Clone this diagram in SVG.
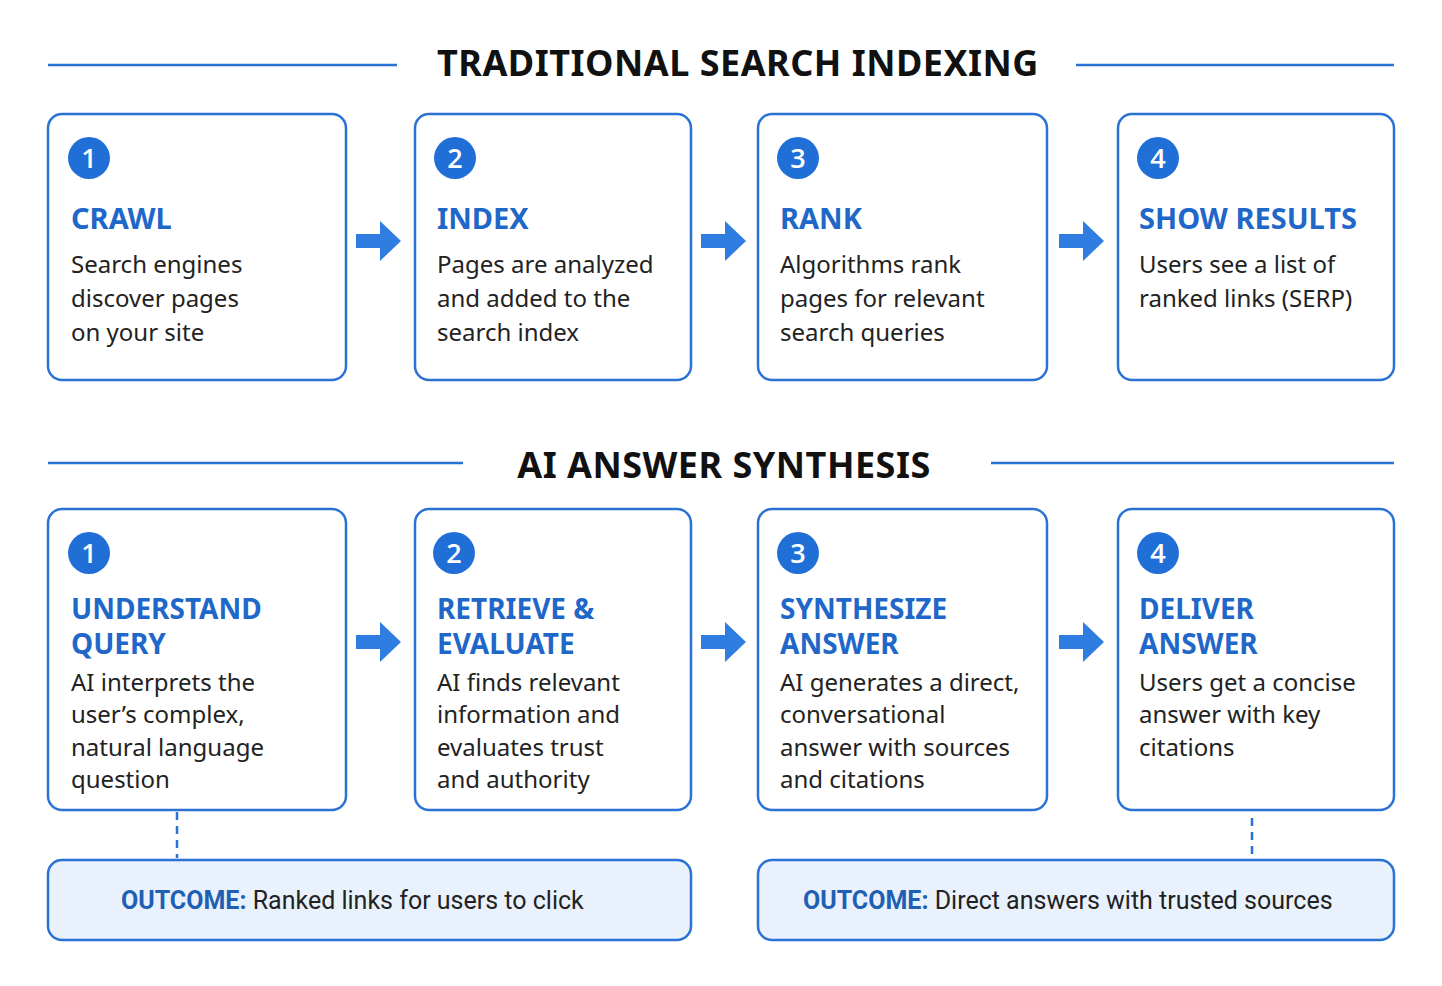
<svg xmlns="http://www.w3.org/2000/svg" width="1442" height="986" viewBox="0 0 1442 986">
<style>
.box{fill:#fff;stroke:#2a72d4;stroke-width:2.5}
.out{fill:#e9f2fc;stroke:#2a72d4;stroke-width:2.5}
.hl{stroke:#2a72d4;stroke-width:2.5}
.c{fill:#1f6fd6}
.n{font-family:"Open Sans","Noto Sans",sans-serif;font-size:27px;fill:#fff;text-anchor:middle;font-weight:600}
.t{font-family:"Noto Sans","Open Sans",sans-serif;font-size:29px;font-weight:700;fill:#1f67c8}
.t2{font-family:"Noto Sans","Open Sans",sans-serif;font-size:28px;font-weight:700;fill:#1f67c8}
.b{font-family:"Noto Sans","Open Sans",sans-serif;font-size:24px;fill:#222}
.h{font-family:"Noto Sans","Open Sans",sans-serif;font-size:36px;font-weight:700;fill:#111;text-anchor:middle;letter-spacing:0.5px}
.o{font-family:"Roboto","Noto Sans",sans-serif;font-size:25px;fill:#222}
.ob{font-weight:700;fill:#1f5fb4}
.ar{fill:#2f7de0}
.d{stroke:#2a72d4;stroke-width:2.5;stroke-dasharray:8,6}
</style>
<rect width="1442" height="986" fill="#fff"/>
<line class="hl" x1="48" y1="65" x2="397" y2="65"/><line class="hl" x1="1076" y1="65" x2="1394" y2="65"/>
<text class="h" x="738" y="76">TRADITIONAL SEARCH INDEXING</text>
<line class="hl" x1="48" y1="463" x2="463" y2="463"/><line class="hl" x1="991" y1="463" x2="1394" y2="463"/>
<text class="h" x="724" y="478">AI ANSWER SYNTHESIS</text>
<g id="crawl"><rect class="box" x="48" y="114" width="298" height="266" rx="14"/><circle class="c" cx="89" cy="158" r="21"/><text class="n" x="89" y="168">1</text><text class="t" x="71" y="229">CRAWL</text><text class="b" x="71" y="273">Search engines</text><text class="b" x="71" y="307">discover pages</text><text class="b" x="71" y="341">on your site</text></g>
<g id="index"><rect class="box" x="415" y="114" width="276" height="266" rx="14"/><circle class="c" cx="455" cy="158" r="21"/><text class="n" x="455" y="168">2</text><text class="t" x="437" y="229">INDEX</text><text class="b" x="437" y="273">Pages are analyzed</text><text class="b" x="437" y="307">and added to the</text><text class="b" x="437" y="341">search index</text></g>
<g id="rank"><rect class="box" x="758" y="114" width="289" height="266" rx="14"/><circle class="c" cx="798" cy="158" r="21"/><text class="n" x="798" y="168">3</text><text class="t" x="780" y="229">RANK</text><text class="b" x="780" y="273">Algorithms rank</text><text class="b" x="780" y="307">pages for relevant</text><text class="b" x="780" y="341">search queries</text></g>
<g id="show"><rect class="box" x="1118" y="114" width="276" height="266" rx="14"/><circle class="c" cx="1158" cy="158" r="21"/><text class="n" x="1158" y="168">4</text><text class="t" x="1139" y="229">SHOW RESULTS</text><text class="b" x="1139" y="273">Users see a list of</text><text class="b" x="1139" y="307">ranked links (SERP)</text></g>
<g id="understand"><rect class="box" x="48" y="509" width="298" height="301" rx="14"/><circle class="c" cx="89" cy="553" r="21"/><text class="n" x="89" y="563">1</text><text class="t2" x="71" y="619">UNDERSTAND</text><text class="t2" x="71" y="654">QUERY</text><text class="b" x="71" y="691">AI interprets the</text><text class="b" x="71" y="723">user’s complex,</text><text class="b" x="71" y="756">natural language</text><text class="b" x="71" y="788">question</text></g>
<g id="retrieve"><rect class="box" x="415" y="509" width="276" height="301" rx="14"/><circle class="c" cx="454" cy="553" r="21"/><text class="n" x="454" y="563">2</text><text class="t2" x="437" y="619">RETRIEVE &amp;</text><text class="t2" x="437" y="654">EVALUATE</text><text class="b" x="437" y="691">AI finds relevant</text><text class="b" x="437" y="723">information and</text><text class="b" x="437" y="756">evaluates trust</text><text class="b" x="437" y="788">and authority</text></g>
<g id="synth"><rect class="box" x="758" y="509" width="289" height="301" rx="14"/><circle class="c" cx="798" cy="553" r="21"/><text class="n" x="798" y="563">3</text><text class="t2" x="780" y="619">SYNTHESIZE</text><text class="t2" x="780" y="654">ANSWER</text><text class="b" x="780" y="691">AI generates a direct,</text><text class="b" x="780" y="723">conversational</text><text class="b" x="780" y="756">answer with sources</text><text class="b" x="780" y="788">and citations</text></g>
<g id="deliver"><rect class="box" x="1118" y="509" width="276" height="301" rx="14"/><circle class="c" cx="1158" cy="553" r="21"/><text class="n" x="1158" y="563">4</text><text class="t2" x="1139" y="619">DELIVER</text><text class="t2" x="1139" y="654">ANSWER</text><text class="b" x="1139" y="691">Users get a concise</text><text class="b" x="1139" y="723">answer with key</text><text class="b" x="1139" y="756">citations</text></g>
<g id="out1"><rect class="out" x="48" y="860" width="643" height="80" rx="14"/><text class="o" x="121" y="909"><tspan class="ob">OUTCOME:</tspan> Ranked links for users to click</text></g>
<g id="out2"><rect class="out" x="758" y="860" width="636" height="80" rx="14"/><text class="o" x="803" y="909"><tspan class="ob">OUTCOME:</tspan> Direct answers with trusted sources</text></g>
<g id="connectors">
<path class="ar" d="M356,234h24v-13l21,20l-21,20v-13h-24z"/>
<path class="ar" d="M701,234h24v-13l21,20l-21,20v-13h-24z"/>
<path class="ar" d="M1059,234h24v-13l21,20l-21,20v-13h-24z"/>
<path class="ar" d="M356,635h24v-13l21,20l-21,20v-13h-24z"/>
<path class="ar" d="M701,635h24v-13l21,20l-21,20v-13h-24z"/>
<path class="ar" d="M1059,635h24v-13l21,20l-21,20v-13h-24z"/>
<line class="d" x1="177" y1="812" x2="177" y2="858"/>
<line class="d" x1="1252" y1="818" x2="1252" y2="858"/>
</g>
</svg>
